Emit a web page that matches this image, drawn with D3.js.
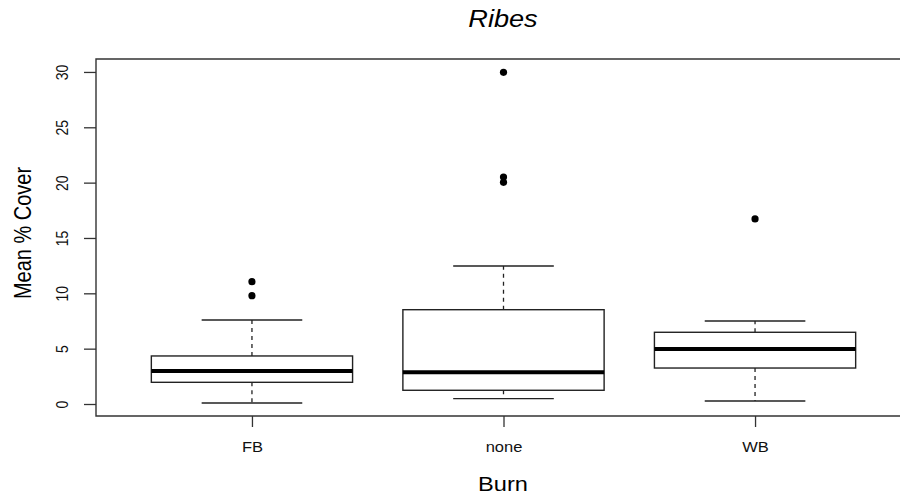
<!DOCTYPE html>
<html>
<head>
<meta charset="utf-8">
<script src="https://cdn.jsdelivr.net/npm/d3@7"></script>
<style>
  html, body { margin: 0; padding: 0; background: #fff; overflow: hidden; }
  svg { display: block; overflow: hidden; font-family: "Liberation Sans", Arial, sans-serif; }
</style>
</head>
<body>
<svg id="chart" width="900" height="495"></svg>
<script>
// ---- data ----
const categories = ["FB", "none", "WB"];
const lowerWhisker = [0.09, 0.48, 0.27];
const q1 = [1.96, 1.24, 3.25];
const medians = [2.98, 2.86, 4.97];
const q3 = [4.34, 8.52, 6.48];
const upperWhisker = [7.59, 12.47, 7.5];
const outliers = [[11.05, 9.79], [29.97, 20.51, 20.03], [16.72]];
const yTicks = [0, 5, 10, 15, 20, 25, 30];
const titleText = "Ribes";
const xLabel = "Burn";
const yLabel = "Mean % Cover";

// ---- layout ----
const svg = d3.select("#chart");
const mLeft = 96, mRight = 911, mTop = 59, mBottom = 416;
const sx = 1.18; // horizontal stretch of the reference text

const x = d3.scalePoint().domain(categories).range([mLeft, mRight]).padding(0.62);
const y = d3.scaleLinear().domain([-1.084, 31.17]).range([mBottom, mTop]);
const step = x.step();
const boxW = step * 0.8;
const capW = boxW * 0.5;

const stroke = "#222";

// plot frame (right edge lies beyond the visible page)
svg.append("path")
  .attr("d", `M${mRight},${mTop}H${mLeft}V${mBottom}H${mRight}`)
  .attr("fill", "none").attr("stroke", "#333").attr("stroke-width", 1.4);

const data = categories.map((c, i) => ({
  c, lw: lowerWhisker[i], q1: q1[i], med: medians[i], q3: q3[i], uw: upperWhisker[i], out: outliers[i]
}));

const g = svg.append("g");
const box = g.selectAll("g.box").data(data).enter().append("g").attr("class", "box");

// dashed whiskers
box.append("line")
  .attr("x1", d => x(d.c)).attr("x2", d => x(d.c))
  .attr("y1", d => y(d.q3)).attr("y2", d => y(d.uw))
  .attr("stroke", stroke).attr("stroke-width", 1.3).attr("stroke-dasharray", "4,4");
box.append("line")
  .attr("x1", d => x(d.c)).attr("x2", d => x(d.c))
  .attr("y1", d => y(d.q1)).attr("y2", d => y(d.lw))
  .attr("stroke", stroke).attr("stroke-width", 1.3).attr("stroke-dasharray", "4,4");
// staples
box.append("line")
  .attr("x1", d => x(d.c) - capW / 2).attr("x2", d => x(d.c) + capW / 2)
  .attr("y1", d => y(d.uw)).attr("y2", d => y(d.uw))
  .attr("stroke", stroke).attr("stroke-width", 1.3);
box.append("line")
  .attr("x1", d => x(d.c) - capW / 2).attr("x2", d => x(d.c) + capW / 2)
  .attr("y1", d => y(d.lw)).attr("y2", d => y(d.lw))
  .attr("stroke", stroke).attr("stroke-width", 1.3);
// boxes
box.append("rect")
  .attr("x", d => x(d.c) - boxW / 2).attr("width", boxW)
  .attr("y", d => y(d.q3)).attr("height", d => y(d.q1) - y(d.q3))
  .attr("fill", "#fff").attr("stroke", stroke).attr("stroke-width", 1.4);
// medians
box.append("line")
  .attr("x1", d => x(d.c) - boxW / 2).attr("x2", d => x(d.c) + boxW / 2)
  .attr("y1", d => y(d.med)).attr("y2", d => y(d.med))
  .attr("stroke", "#000").attr("stroke-width", 4);
// outliers
box.selectAll("circle").data(d => d.out.map(v => ({ c: d.c, v }))).enter().append("circle")
  .attr("cx", d => x(d.c)).attr("cy", d => y(d.v)).attr("r", 3.6).attr("fill", "#000");

// y axis
const yAxis = svg.append("g").attr("transform", `translate(${mLeft},0)`)
  .call(d3.axisLeft(y).tickValues(yTicks).tickSize(12).tickSizeOuter(0).tickFormat(d3.format("d")));
yAxis.select(".domain").remove();
yAxis.selectAll(".tick line").attr("stroke", "#333").attr("stroke-width", 1.3);
yAxis.selectAll(".tick text")
  .attr("x", null).attr("dy", null)
  .attr("text-anchor", "middle")
  .attr("font-size", 14).attr("fill", "#111")
  .attr("transform", `translate(${68 - mLeft},0) scale(${sx},1) rotate(-90)`);

// x axis
const xAxis = svg.append("g").attr("transform", `translate(0,${mBottom})`)
  .call(d3.axisBottom(x).tickSize(11).tickSizeOuter(0));
xAxis.select(".domain").remove();
xAxis.selectAll(".tick line").attr("stroke", "#333").attr("stroke-width", 1.3);
xAxis.selectAll(".tick text")
  .attr("y", null).attr("dy", null)
  .attr("font-size", 14).attr("fill", "#111")
  .attr("transform", `translate(0,${452 - mBottom}) scale(${sx},1)`);

// titles
svg.append("text")
  .attr("transform", `translate(503,27) scale(${sx},1)`)
  .attr("text-anchor", "middle").attr("font-size", 23).attr("font-style", "italic")
  .attr("fill", "#000").text(titleText);
svg.append("text")
  .attr("transform", `translate(503,491) scale(${sx},1)`)
  .attr("text-anchor", "middle").attr("font-size", 20).attr("fill", "#000").text(xLabel);
svg.append("text")
  .attr("transform", `translate(31,233) scale(${sx},1) rotate(-90)`)
  .attr("text-anchor", "middle").attr("font-size", 20).attr("fill", "#000").text(yLabel);
</script>
</body>
</html>
